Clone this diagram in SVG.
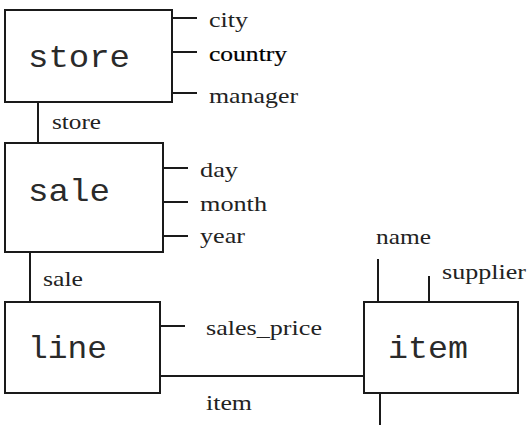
<svg xmlns="http://www.w3.org/2000/svg" width="532" height="441" viewBox="0 0 532 441">
<style>
.box{fill:#fff;stroke:#1a1a1a;stroke-width:2}
.ln{stroke:#1a1a1a;stroke-width:2;fill:none}
.ent{font-family:"Liberation Mono","Courier New",monospace;font-size:32px;fill:#2a2a2a}
.att{font-family:"Liberation Serif","Times New Roman",serif;font-size:22px;fill:#222}
</style>
<rect width="532" height="441" fill="#fff"/>
<g id="connectors">
<line class="ln" x1="38" y1="102" x2="38" y2="143"/>
<line class="ln" x1="30" y1="252" x2="30" y2="302"/>
<line class="ln" x1="160" y1="376" x2="364" y2="376"/>
</g>
<g id="store">
<rect class="box" x="5" y="10" width="167" height="92"/>
<text class="ent" x="28" y="67" textLength="102" lengthAdjust="spacingAndGlyphs">store</text>
<line class="ln" x1="172" y1="18" x2="197" y2="18"/>
<line class="ln" x1="172" y1="52" x2="197" y2="52"/>
<line class="ln" x1="172" y1="93" x2="197" y2="93"/>
<text class="att" x="209" y="27" textLength="39" lengthAdjust="spacingAndGlyphs">city</text>
<text class="att" x="209" y="61" textLength="78" lengthAdjust="spacingAndGlyphs" style="fill:#000;stroke:#000;stroke-width:0.2">country</text>
<text class="att" x="209" y="103" textLength="89" lengthAdjust="spacingAndGlyphs">manager</text>
<text class="att" x="52" y="129" textLength="49" lengthAdjust="spacingAndGlyphs">store</text>
</g>
<g id="sale">
<rect class="box" x="5" y="143" width="158" height="109"/>
<text class="ent" x="28" y="201" textLength="82" lengthAdjust="spacingAndGlyphs">sale</text>
<line class="ln" x1="163" y1="168" x2="188" y2="168"/>
<line class="ln" x1="163" y1="202" x2="188" y2="202"/>
<line class="ln" x1="163" y1="236" x2="188" y2="236"/>
<text class="att" x="200" y="177" textLength="38" lengthAdjust="spacingAndGlyphs">day</text>
<text class="att" x="200" y="211" textLength="67" lengthAdjust="spacingAndGlyphs">month</text>
<text class="att" x="200" y="243" textLength="45" lengthAdjust="spacingAndGlyphs">year</text>
<text class="att" x="43" y="286" textLength="40" lengthAdjust="spacingAndGlyphs">sale</text>
</g>
<g id="line">
<rect class="box" x="5" y="302" width="155" height="91"/>
<text class="ent" x="28" y="358" textLength="79" lengthAdjust="spacingAndGlyphs">line</text>
<line class="ln" x1="160" y1="326" x2="185" y2="326"/>
<text class="att" x="206" y="335" textLength="116" lengthAdjust="spacingAndGlyphs">sales_price</text>
<text class="att" x="206" y="410" textLength="46" lengthAdjust="spacingAndGlyphs">item</text>
</g>
<g id="item">
<rect class="box" x="364" y="302" width="154" height="91"/>
<text class="ent" x="388" y="358" textLength="80" lengthAdjust="spacingAndGlyphs">item</text>
<line class="ln" x1="378" y1="259" x2="378" y2="302"/>
<line class="ln" x1="429" y1="276" x2="429" y2="302"/>
<line class="ln" x1="380" y1="393" x2="380" y2="425"/>
<text class="att" x="376" y="244" textLength="55" lengthAdjust="spacingAndGlyphs">name</text>
<text class="att" x="442" y="279" textLength="84" lengthAdjust="spacingAndGlyphs">supplier</text>
</g>
</svg>
